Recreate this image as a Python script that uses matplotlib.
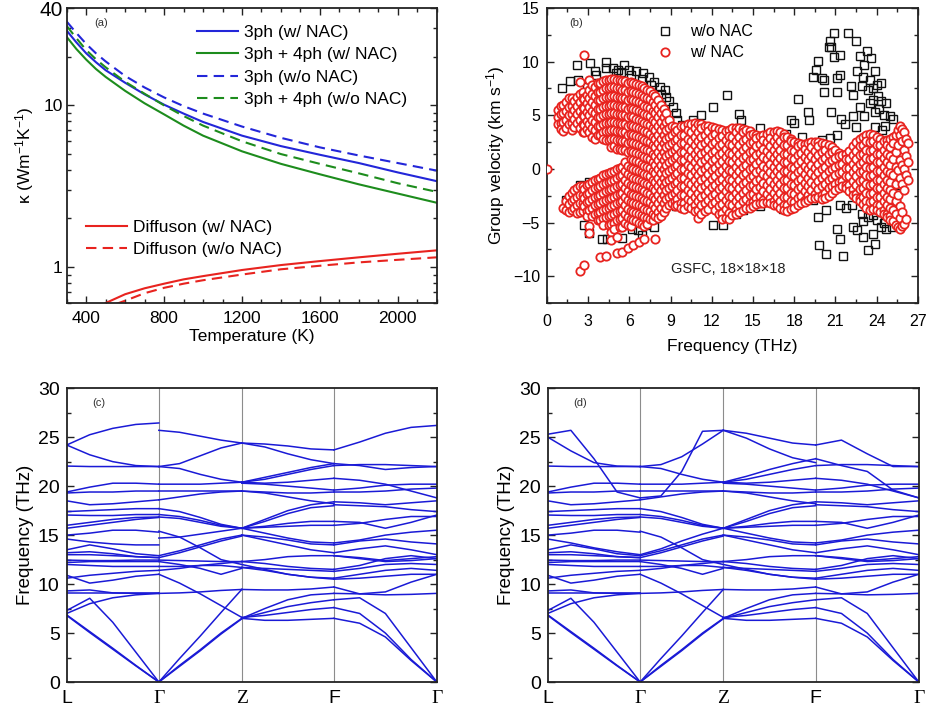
import numpy as np
import matplotlib
matplotlib.use('Agg')
import matplotlib.pyplot as plt
from matplotlib.ticker import MultipleLocator, FixedLocator, NullFormatter
from matplotlib.lines import Line2D

plt.rcParams['font.family'] = ['Liberation Sans', 'DejaVu Sans']
plt.rcParams['mathtext.fontset'] = 'custom'
plt.rcParams['mathtext.rm'] = 'Liberation Sans'
plt.rcParams['mathtext.it'] = 'Liberation Sans:italic'
plt.rcParams['axes.unicode_minus'] = True

# ---------------- (a) thermal conductivity ----------------
temps = [300, 350, 400, 450, 500, 600, 700, 800, 900, 1000, 1200, 1400, 1600, 1800, 2000, 2200]
k3_nac = [29, 24.5, 21, 18.5, 16.5, 13.8, 11.7, 10.1, 8.9, 7.9, 6.5, 5.6, 4.95, 4.4, 3.85, 3.4]
k34_nac = [26.5, 22.3, 19.2, 16.8, 15.0, 12.3, 10.3, 8.8, 7.5, 6.5, 5.2, 4.35, 3.75, 3.25, 2.85, 2.5]
k3_nonac = [33, 28, 24, 21, 18.7, 15.2, 12.9, 11.2, 9.9, 8.9, 7.4, 6.3, 5.5, 4.9, 4.4, 3.95]
k34_nonac = [31, 26, 22, 19.3, 17.2, 14.0, 11.8, 10.0, 8.6, 7.5, 6.0, 5.0, 4.35, 3.8, 3.3, 2.92]

t_dif_nac = [500, 600, 700, 800, 900, 1000, 1200, 1400, 1600, 1800, 2000, 2200]
kd_nac = [0.6, 0.68, 0.74, 0.79, 0.84, 0.88, 0.96, 1.03, 1.09, 1.15, 1.21, 1.27]
t_dif_nonac = [550, 600, 700, 800, 900, 1000, 1200, 1400, 1600, 1800, 2000, 2200]
kd_nonac = [0.59, 0.62, 0.69, 0.745, 0.79, 0.83, 0.9, 0.97, 1.02, 1.07, 1.11, 1.15]

# ---------------- (b) group velocities ----------------
black_f_low = [1.1, 1.65, 2.2, 2.3, 2.9, 3.15, 3.5, 3.6, 4.3, 4.3, 4.8, 5.0, 5.2, 5.4, 5.6, 6.0, 6.1,
               6.5, 6.9, 7.0, 7.4, 7.6, 7.8, 8.2, 8.3, 8.6, 8.7, 8.9, 9.2, 9.4, 9.5, 9.8, 10.6, 11.2,
               12.1, 13.1, 14.0, 14.1,
               1.4, 2.0, 2.4, 2.7, 3.05, 3.05, 3.8, 4.0, 4.4, 5.1, 5.5, 6.2, 6.6, 6.9, 7.2, 7.8,
               9.4, 10.6, 12.1, 12.8, 13.8, 14.3]
black_v_low = [7.5, 8.2, 9.7, 8.3, 7.6, 9.9, 9.1, 8.8, 10.0, 9.4, 9.4, 8.9, 9.2, 9.0, 9.7, 9.2, 8.8,
               9.1, 8.4, 8.9, 8.6, 7.8, 8.1, 7.6, 7.0, 7.4, 6.7, 6.3, 5.8, 5.2, 4.6, 4.1, 4.6, 5.0,
               5.75, 6.85, 5.1, 4.6,
               -2.9, -2.3, -1.5, -5.2, -6.0, -1.2, -4.6, -6.5, -6.5, -4.6, -6.4, -5.6, -5.7, -6.2, -5.2, -5.4,
               -3.5, -3.5, -5.2, -5.2, -4.2, -3.8]
black_f_high = [15.5, 17.4, 17.8, 18.0, 18.3, 19.0, 19.1, 18.6, 20.0, 20.6, 15.5, 17.2, 19.4,
                19.4, 19.7, 19.6, 20.0, 20.2, 20.2, 20.5, 20.6, 20.7, 20.9, 20.9, 21.1, 21.1, 21.3,
                21.3, 20.7, 21.1, 21.4, 21.7, 21.9, 22.1, 22.3, 22.5, 22.6, 22.8, 22.9, 23.0, 23.1,
                23.3, 23.4, 23.5, 23.6, 23.7, 23.9, 24.0, 24.1, 24.2, 24.3, 24.5, 24.7, 24.95, 25.2,
                23.5, 23.1, 22.5, 22.3, 23.85, 24.4, 23.9, 24.6, 22.8, 24.3, 23.7,
                19.7, 19.8, 20.3, 20.3, 21.1, 21.3, 21.3, 21.55, 21.8, 22.2, 22.3, 22.6, 23.0, 23.4,
                23.7, 23.85, 22.9, 23.4, 24.0, 24.3, 24.7, 25.1, 25.4, 25.7, 25.55, 23.0, 24.5, 23.7,
                25.5, 25.3]
black_v_high = [3.8, 3.3, 4.6, 4.3, 6.5, 5.3, 4.6, 3.0, 2.7, 2.9, -3.5, -3.7, -2.9,
                8.55, 10.1, 9.2, 8.5, 8.3, 7.2, 11.4, 11.9, 11.4, 12.7, 10.4, 8.5, 7.2, 10.6,
                8.8, 5.3, 3.2, 4.7, 4.2, 12.7, 7.7, 6.9, 11.9, 9.1, 10.5, 7.7, 8.6, 9.7,
                10.95, 7.4, 8.3, 10.3, 6.4, 9.1, 7.8, 6.8, 5.6, 6.3, 5.0, 6.1, 4.9, 4.7,
                6.1, 4.9, 3.9, 4.9, 3.95, 3.6, 5.3, 4.0, 5.8, 8.0, 7.5,
                -4.5, -7.1, -3.8, -7.9, -5.6, -3.4, -6.5, -8.1, -3.6, -3.4, -5.4, -5.7, -6.3, -7.6,
                -6.1, -7.0, -4.2, -4.5, -4.8, -5.4, -5.6, -5.4, -2.9, -1.7, -0.4, -4.9, -5.0, -4.3,
                -2.2, -1.0]

# red circles, column by column: (frequency, [velocities])
red_cols_low = [
    (0.0, [0.0]),
    (0.8, [5.5, 4.8, 4.2]),
    (1.0, [5.9, 5.1, 4.3, 3.7]),
    (1.2, [6.0, 5.2, 4.4, 3.5, -3.6]),
    (1.4, [6.2, 5.4, 4.6, 3.8, -3.0, -3.8]),
    (1.6, [6.6, 5.8, 5.0, 4.2, -2.5, -3.3, -4.0]),
    (1.8, [6.6, 5.9, 5.1, 4.3, 3.6, -2.2, -3.0, -3.8]),
    (2.0, [6.3, 5.5, 4.7, 3.9, -2.0, -2.8, -3.6]),
    (2.2, [6.7, 5.9, 5.1, 4.3, -1.8, -2.6, -3.4, -4.1]),
    (2.4, [8.1, 7.0, 6.2, 5.4, 4.6, 3.8, -1.6, -2.4, -3.2, -4.0, -9.5]),
    (2.6, [7.2, 6.6, 5.8, 5.0, 4.2, 3.4, -1.6, -2.4, -3.2, -3.9]),
    (2.7, [10.6, 6.5, 5.7, 4.9, 4.1, 3.4, -1.9, -2.7, -3.5, -9.0]),
    (2.9, [6.9, 6.1, 5.3, 4.5, 3.7, -1.5, -2.3, -3.1, -3.9, -4.4]),
    (3.1, [8.3, 7.4, 6.6, 5.8, 5.0, 4.2, 3.4, -1.4, -2.2, -3.0, -3.8, -5.3, -6.0]),
    (3.3, [7.8, 7.0, 6.2, 5.4, 4.6, 3.8, 3.0, -1.2, -2.0, -2.8, -3.6, -4.4]),
    (3.5, [7.6, 6.8, 6.0, 5.2, 4.4, 3.6, 2.8, -1.0, -1.8, -2.6, -3.4, -4.2]),
    (3.7, [8.0, 7.2, 6.4, 5.6, 4.8, 4.0, 3.2, -0.9, -1.7, -2.5, -3.3, -4.1, -4.8]),
    (3.9, [8.0, 7.2, 6.4, 5.6, 4.8, 4.0, 3.2, -0.8, -1.6, -2.4, -3.2, -4.0, -4.8, -8.2]),
    (4.1, [8.2, 7.4, 6.6, 5.8, 5.0, 4.2, 3.4, 2.8, -0.6, -1.4, -2.2, -3.0, -3.8, -4.6, -5.2]),
    (4.3, [8.3, 7.5, 6.7, 5.9, 5.1, 4.3, 3.5, 2.7, -0.5, -1.3, -2.1, -2.9, -3.7, -4.5, -8.1]),
    (4.5, [8.3, 7.5, 6.7, 5.9, 5.1, 4.3, 3.5, 2.7, -0.4, -1.2, -2.0, -2.8, -3.6, -4.4, -5.2]),
    (4.7, [8.4, 7.6, 6.8, 6.0, 5.2, 4.4, 3.6, 2.8, 2.0, -0.3, -1.1, -1.9, -2.7, -3.5, -4.3, -5.1, -5.9, -6.6]),
    (4.9, [8.4, 7.6, 6.8, 6.0, 5.2, 4.4, 3.6, 2.8, 2.1, -0.2, -1.0, -1.8, -2.6, -3.4, -4.2, -5.0, -5.6]),
    (5.1, [8.3, 7.5, 6.7, 5.9, 5.1, 4.3, 3.5, 2.7, 1.9, 0.0, -0.8, -1.6, -2.4, -3.2, -4.0, -4.8, -6.3, -7.8]),
    (5.3, [8.3, 7.5, 6.7, 5.9, 5.1, 4.3, 3.5, 2.7, 1.9, 0.1, -0.7, -1.5, -2.3, -3.1, -3.9, -4.7, -5.4]),
    (5.5, [8.2, 7.4, 6.6, 5.8, 5.0, 4.2, 3.4, 2.6, 1.8, 0.2, -0.6, -1.4, -2.2, -3.0, -3.8, -4.6, -5.4, -7.7]),
    (5.7, [8.2, 7.4, 6.6, 5.8, 5.0, 4.2, 3.4, 2.6, 1.8, 0.6, -0.2, -1.0, -1.8, -2.6, -3.4, -4.2, -5.0]),
    (5.9, [8.0, 7.2, 6.4, 5.6, 4.8, 4.0, 3.2, 2.4, 1.6, 0.3, -0.5, -1.3, -2.1, -2.9, -3.7, -4.5, -5.2, -7.4]),
    (6.1, [8.1, 7.3, 6.5, 5.7, 4.9, 4.1, 3.3, 2.5, 1.7, 0.9, 0.1, -0.7, -1.5, -2.3, -3.1, -3.9, -4.7, -5.3]),
    (6.3, [8.0, 7.2, 6.4, 5.6, 4.8, 4.0, 3.2, 2.4, 1.6, 0.8, 0.0, -0.8, -1.6, -2.4, -3.2, -4.0, -4.8, -7.1]),
    (6.5, [7.9, 7.1, 6.3, 5.5, 4.7, 3.9, 3.1, 2.3, 1.5, 0.7, -0.1, -0.9, -1.7, -2.5, -3.3, -4.1, -4.9]),
    (6.7, [7.8, 7.0, 6.2, 5.4, 4.6, 3.8, 3.0, 2.2, 1.4, 0.6, -0.2, -1.0, -1.8, -2.6, -3.4, -4.2, -5.0, -6.8]),
    (6.9, [7.7, 6.9, 6.1, 5.3, 4.5, 3.7, 2.9, 2.1, 1.3, 0.5, -0.3, -1.1, -1.9, -2.7, -3.5, -4.3, -5.1]),
    (7.1, [7.5, 6.7, 5.9, 5.1, 4.3, 3.5, 2.7, 1.9, 1.1, 0.3, -0.5, -1.3, -2.1, -2.9, -3.7, -4.5, -5.3, -6.5]),
    (7.3, [7.4, 6.6, 5.8, 5.0, 4.2, 3.4, 2.6, 1.8, 1.0, 0.2, -0.6, -1.4, -2.2, -3.0, -3.8, -4.6, -5.1]),
    (7.5, [7.3, 6.5, 5.7, 4.9, 4.1, 3.3, 2.5, 1.7, 0.9, 0.1, -0.7, -1.5, -2.3, -3.1, -3.9, -4.7]),
    (7.7, [7.0, 6.2, 5.4, 4.6, 3.8, 3.0, 2.2, 1.4, 0.6, -0.2, -1.0, -1.8, -2.6, -3.4, -4.2, -4.8]),
    (7.9, [6.8, 6.0, 5.2, 4.4, 3.6, 2.8, 2.0, 1.2, 0.4, -0.4, -1.2, -2.0, -2.8, -3.6, -4.4, -6.5]),
    (8.1, [6.4, 5.6, 4.8, 4.0, 3.2, 2.4, 1.6, 0.8, 0.0, -0.8, -1.6, -2.4, -3.2, -4.0, -4.6]),
    (8.3, [6.0, 5.2, 4.4, 3.6, 2.8, 2.0, 1.2, 0.4, -0.4, -1.2, -2.0, -2.8, -3.6, -4.4]),
    (8.5, [5.6, 4.8, 4.0, 3.2, 2.4, 1.6, 0.8, 0.0, -0.8, -1.6, -2.4, -3.2, -4.0]),
    (8.7, [5.2, 4.4, 3.6, 2.8, 2.0, 1.2, 0.4, -0.4, -1.2, -2.0, -2.8, -3.6]),
    (8.9, [4.6, 3.8, 3.0, 2.2, 1.4, 0.6, -0.2, -1.0, -1.8, -2.6, -3.4]),
    (9.1, [4.0, 3.2, 2.4, 1.6, 0.8, 0.0, -0.8, -1.6, -2.4, -3.2]),
    (9.3, [3.9, 3.4, 2.6, 1.8, 1.0, 0.2, -0.6, -1.4, -2.2, -3.0, -3.5]),
]
red_cols_mid = [
    (9.5, [3.6, 2.8, 2.0, 1.2, 0.4, -0.4, -1.2, -2.0, -2.8, -3.4]),
    (9.75, [4.0, 3.2, 2.4, 1.6, 0.8, 0.0, -0.8, -1.6, -2.4, -3.2, -3.6]),
    (10.0, [4.0, 3.2, 2.4, 1.6, 0.8, 0.0, -0.8, -1.6, -2.4, -3.2, -3.7]),
    (10.25, [4.2, 3.6, 2.8, 2.0, 1.2, 0.4, -0.4, -1.2, -2.0, -2.8, -3.5]),
    (10.5, [4.2, 3.4, 2.6, 1.8, 1.0, 0.2, -0.6, -1.4, -2.2, -3.0, -3.6]),
    (10.75, [4.3, 3.8, 3.0, 2.2, 1.4, 0.6, -0.2, -1.0, -1.8, -2.6, -3.4, -3.9]),
    (11.0, [4.2, 3.4, 2.6, 1.8, 1.0, 0.2, -0.6, -1.4, -2.2, -3.0, -3.8, -4.6]),
    (11.25, [4.2, 3.8, 3.0, 2.2, 1.4, 0.6, -0.2, -1.0, -1.8, -2.6, -3.4, -4.2]),
    (11.5, [4.0, 3.2, 2.4, 1.6, 0.8, 0.0, -0.8, -1.6, -2.4, -3.2, -3.9]),
    (11.75, [4.0, 3.5, 2.7, 1.9, 1.1, 0.3, -0.5, -1.3, -2.1, -2.9, -3.7]),
    (12.0, [3.9, 3.1, 2.3, 1.5, 0.7, -0.1, -0.9, -1.7, -2.5, -3.3]),
    (12.25, [3.8, 3.3, 2.5, 1.7, 0.9, 0.1, -0.7, -1.5, -2.3, -3.1, -3.8]),
    (12.5, [3.7, 2.9, 2.1, 1.3, 0.5, -0.3, -1.1, -1.9, -2.7, -3.5, -4.2]),
    (12.75, [3.6, 3.1, 2.3, 1.5, 0.7, -0.1, -0.9, -1.7, -2.5, -3.3, -4.1, -4.7]),
    (13.0, [3.5, 2.7, 1.9, 1.1, 0.3, -0.5, -1.3, -2.1, -2.9, -3.7, -4.6]),
    (13.25, [3.6, 3.1, 2.3, 1.5, 0.7, -0.1, -0.9, -1.7, -2.5, -3.3, -4.1, -4.7]),
    (13.5, [3.8, 3.0, 2.2, 1.4, 0.6, -0.2, -1.0, -1.8, -2.6, -3.4, -4.3]),
    (13.75, [3.8, 3.4, 2.6, 1.8, 1.0, 0.2, -0.6, -1.4, -2.2, -3.0, -3.8, -4.2]),
    (14.0, [3.8, 3.0, 2.2, 1.4, 0.6, -0.2, -1.0, -1.8, -2.6, -3.4, -4.0]),
    (14.25, [3.7, 3.4, 2.6, 1.8, 1.0, 0.2, -0.6, -1.4, -2.2, -3.0, -3.8]),
    (14.5, [3.6, 2.8, 2.0, 1.2, 0.4, -0.4, -1.2, -2.0, -2.8, -3.6]),
    (14.75, [3.5, 3.2, 2.4, 1.6, 0.8, 0.0, -0.8, -1.6, -2.4, -3.2, -3.6]),
    (15.0, [3.3, 2.5, 1.7, 0.9, 0.1, -0.7, -1.5, -2.3, -3.1, -3.5]),
    (15.25, [3.2, 2.9, 2.1, 1.3, 0.5, -0.3, -1.1, -1.9, -2.7, -3.3]),
    (15.5, [3.1, 2.3, 1.5, 0.7, -0.1, -0.9, -1.7, -2.5, -3.2]),
    (15.75, [3.2, 2.7, 1.9, 1.1, 0.3, -0.5, -1.3, -2.1, -2.9, -3.2]),
    (16.0, [3.3, 2.5, 1.7, 0.9, 0.1, -0.7, -1.5, -2.3, -3.1]),
    (16.25, [3.4, 2.9, 2.1, 1.3, 0.5, -0.3, -1.1, -1.9, -2.7, -3.2]),
    (16.5, [3.4, 2.6, 1.8, 1.0, 0.2, -0.6, -1.4, -2.2, -3.0, -3.4]),
    (16.75, [3.5, 3.0, 2.2, 1.4, 0.6, -0.2, -1.0, -1.8, -2.6, -3.4]),
    (17.0, [3.4, 2.6, 1.8, 1.0, 0.2, -0.6, -1.4, -2.2, -3.0, -3.6]),
    (17.25, [3.3, 3.0, 2.2, 1.4, 0.6, -0.2, -1.0, -1.8, -2.6, -3.4, -3.8]),
    (17.5, [3.0, 2.2, 1.4, 0.6, -0.2, -1.0, -1.8, -2.6, -3.4, -3.9]),
    (17.75, [2.8, 2.6, 1.8, 1.0, 0.2, -0.6, -1.4, -2.2, -3.0, -3.7]),
]
red_cols_high = [
    (18.0, [2.5, 1.7, 0.9, 0.1, -0.7, -1.5, -2.3, -3.1, -3.6]),
    (18.25, [2.4, 2.1, 1.3, 0.5, -0.3, -1.1, -1.9, -2.7, -3.4]),
    (18.5, [2.3, 1.5, 0.7, -0.1, -0.9, -1.7, -2.5, -3.2]),
    (18.75, [2.3, 1.9, 1.1, 0.3, -0.5, -1.3, -2.1, -2.9, -3.1]),
    (19.0, [2.4, 1.6, 0.8, 0.0, -0.8, -1.6, -2.4, -2.9]),
    (19.25, [2.5, 2.0, 1.2, 0.4, -0.4, -1.2, -2.0, -2.7]),
    (19.5, [2.5, 1.7, 0.9, 0.1, -0.7, -1.5, -2.3, -2.7]),
    (19.75, [2.5, 2.1, 1.3, 0.5, -0.3, -1.1, -1.9, -2.6]),
    (20.0, [2.4, 1.6, 0.8, 0.0, -0.8, -1.6, -2.4, -2.8]),
    (20.25, [2.3, 1.8, 1.0, 0.2, -0.6, -1.4, -2.2, -2.7]),
    (20.5, [2.2, 1.4, 0.6, -0.2, -1.0, -1.8, -2.5]),
    (20.75, [2.0, 1.6, 0.8, 0.0, -0.8, -1.6, -2.2]),
    (21.0, [1.8, 1.0, 0.2, -0.6, -1.4, -2.0]),
    (21.25, [1.5, 1.2, 0.4, -0.4, -1.2, -1.8]),
    (21.5, [1.3, 0.5, -0.3, -1.1, -1.6]),
    (21.75, [1.4, 0.9, 0.1, -0.7, -1.5, -1.8]),
    (22.0, [1.7, 0.9, 0.1, -0.7, -1.5, -2.1]),
    (22.25, [2.1, 1.3, 0.5, -0.3, -1.1, -1.9, -2.4]),
    (22.5, [2.5, 1.7, 0.9, 0.1, -0.7, -1.5, -2.3, -2.7]),
    (22.75, [2.8, 2.1, 1.3, 0.5, -0.3, -1.1, -1.9, -2.7, -3.0]),
    (23.0, [3.0, 2.2, 1.4, 0.6, -0.2, -1.0, -1.8, -2.6, -3.3]),
    (23.25, [3.2, 2.6, 1.8, 1.0, 0.2, -0.6, -1.4, -2.2, -3.0, -3.6]),
    (23.5, [3.3, 2.5, 1.7, 0.9, 0.1, -0.7, -1.5, -2.3, -3.1, -3.8]),
    (23.75, [3.2, 2.6, 1.8, 1.0, 0.2, -0.6, -1.4, -2.2, -3.0, -3.7]),
    (24.0, [3.0, 2.2, 1.4, 0.6, -0.2, -1.0, -1.8, -2.6, -3.4, -3.8]),
    (24.25, [2.8, 2.2, 1.4, 0.6, -0.2, -1.0, -1.8, -2.6, -3.4, -4.0]),
    (24.5, [2.6, 1.8, 1.0, 0.2, -0.6, -1.4, -2.2, -3.0, -3.8, -4.2]),
    (24.75, [2.7, 2.2, 1.4, 0.6, -0.2, -1.0, -1.8, -2.6, -3.4, -4.2, -4.5]),
    (25.0, [2.8, 2.0, 1.2, 0.4, -0.4, -1.2, -2.0, -2.8, -3.6, -4.4, -4.8]),
    (25.2, [3.0, 2.4, 0.9, -0.6, -2.2, -3.8, -4.9]),
    (25.4, [3.2, 1.6, 0.2, -1.4, -3.0, -4.2, -5.2]),
    (25.55, [3.6, 2.2, -0.1, -2.4, -5.4]),
    (25.7, [4.0, 3.2, 0.8, -0.8, -3.5, -4.6, -5.6]),
    (25.85, [3.7, 2.6, 0.4, -1.4, -4.0, -5.3]),
    (26.0, [3.4, 1.8, 0.0, -2.0, -5.1]),
    (26.15, [2.8, 1.2, -0.6, -4.7]),
    (26.3, [2.4, 0.6, -1.0]),
]

# ---------------- (c), (d) phonon dispersions ----------------
# path L - Gamma - Z - F - Gamma, five samples per segment
q_nodes = [0.0, 0.249, 0.473, 0.722, 1.0]
q_labels = ['L', 'Γ', 'Z', 'F', 'Γ']

lg_common = [
    [22.05, 22.0, 22.0, 22.0, 22.0],
    [19.4, 19.9, 20.3, 20.3, 20.2],
    [19.3, 19.4, 19.4, 19.5, 19.5],
    [18.5, 18.1, 18.2, 18.4, 18.6],
    [17.4, 17.5, 17.6, 17.7, 17.7],
    [17.05, 17.0, 17.0, 17.1, 17.1],
    [16.0, 16.3, 16.6, 16.8, 16.85],
    [15.7, 16.0, 16.3, 16.6, 16.8],
    [15.0, 15.2, 15.5, 15.5, 15.3],
    [13.5, 14.0, 13.6, 13.1, 12.9],
    [13.2, 13.3, 13.1, 12.8, 12.7],
    [13.0, 13.0, 12.9, 12.8, 12.7],
    [12.45, 12.4, 12.4, 12.45, 12.45],
    [12.2, 12.3, 12.3, 12.3, 12.3],
    [12.0, 11.9, 11.8, 11.8, 11.8],
    [10.9, 10.1, 10.4, 10.8, 11.0],
    [10.6, 10.9, 11.1, 11.3, 11.4],
    [9.3, 9.4, 9.1, 9.05, 9.05],
    [9.05, 9.05, 9.05, 9.05, 9.05],
    [7.3, 8.55, 6.1, 3.05, 0.0],
    [7.0, 8.0, 8.6, 8.9, 9.05],
    [6.85, 5.15, 3.45, 1.7, 0.0],
    [6.8, 5.05, 3.35, 1.65, 0.0],
]
lg_nac = [
    [24.2, 25.25, 25.9, 26.3, 26.45],
    [24.2, 23.2, 22.5, 22.1, 22.0],
    [14.6, 14.3, 14.1, 14.0, 14.0],
]
lg_nonac = [
    [25.3, 25.7, 22.8, 19.4, 18.8],
    [25.0, 23.6, 22.4, 22.05, 22.0],
    [14.6, 14.2, 13.7, 13.3, 13.0],
]

gz_common = [
    [22.0, 21.8, 21.2, 20.7, 20.4],
    [20.2, 20.2, 20.2, 20.3, 20.4],
    [19.5, 19.5, 19.5, 19.5, 19.5],
    [18.6, 18.9, 19.2, 19.4, 19.5],
    [17.7, 17.4, 16.8, 16.1, 15.7],
    [17.1, 16.9, 16.5, 16.0, 15.7],
    [16.85, 16.7, 16.3, 15.9, 15.7],
    [15.4, 14.8, 13.7, 12.5, 12.0],
    [12.9, 13.4, 14.0, 14.6, 15.0],
    [12.7, 13.2, 13.8, 14.4, 14.9],
    [12.45, 12.4, 12.35, 12.3, 12.3],
    [12.3, 12.0, 11.6, 11.0, 11.6],
    [11.8, 11.8, 11.9, 11.9, 11.7],
    [11.4, 11.6, 11.9, 12.1, 12.3],
    [11.0, 10.1, 9.0, 7.8, 6.6],
    [9.05, 9.1, 9.2, 9.35, 9.45],
    [0.0, 2.4, 4.7, 7.1, 9.45],
    [0.0, 1.7, 3.3, 5.0, 6.5],
    [0.0, 1.6, 3.2, 4.9, 6.45],
]
gz_nac = [
    [25.7, 25.5, 25.1, 24.7, 24.4],
    [22.0, 22.3, 23.1, 23.9, 24.4],
    [14.7, 14.8, 15.1, 15.4, 15.7],
]
gz_nonac = [
    [18.8, 19.0, 21.5, 25.6, 25.7],
    [22.0, 22.2, 23.0, 24.3, 25.7],
    [13.0, 13.6, 14.4, 15.1, 15.7],
]

zf_common = [
    [20.4, 20.7, 21.2, 21.7, 22.1],
    [20.4, 20.3, 20.4, 20.6, 20.8],
    [20.3, 20.2, 20.0, 19.8, 19.6],
    [19.5, 19.3, 18.9, 18.5, 18.2],
    [19.5, 19.4, 19.3, 19.3, 19.4],
    [15.7, 16.6, 17.5, 18.1, 18.4],
    [15.7, 16.4, 17.2, 17.8, 18.0],
    [15.7, 15.9, 16.2, 16.4, 16.4],
    [15.7, 15.8, 15.9, 16.0, 16.0],
    [15.7, 15.2, 14.7, 14.3, 14.2],
    [15.0, 14.8, 14.5, 14.1, 14.0],
    [15.0, 14.5, 14.0, 13.5, 13.2],
    [12.3, 12.5, 12.8, 12.9, 12.9],
    [12.3, 12.1, 11.8, 11.6, 11.5],
    [11.7, 11.6, 11.5, 11.4, 11.3],
    [11.7, 11.4, 11.0, 10.7, 10.6],
    [12.0, 11.5, 11.0, 10.7, 10.5],
    [9.45, 9.4, 9.4, 9.5, 9.7],
    [6.5, 7.5, 8.4, 8.9, 9.05],
    [6.5, 7.1, 7.7, 8.1, 8.4],
    [6.6, 6.8, 7.1, 7.4, 7.6],
    [6.5, 6.3, 6.3, 6.4, 6.5],
]
zf_nac = [
    [24.4, 24.3, 24.1, 23.8, 23.7],
    [24.4, 24.0, 23.3, 22.7, 22.3],
    [20.4, 20.9, 21.4, 21.9, 22.3],
]
zf_nonac = [
    [25.7, 25.4, 24.9, 24.4, 24.2],
    [25.7, 24.9, 23.8, 22.9, 22.4],
    [20.4, 21.0, 21.7, 22.3, 22.8],
]

fg_common = [
    [22.1, 22.2, 22.2, 22.1, 22.0],
    [20.8, 20.6, 20.2, 19.5, 18.8],
    [19.6, 19.8, 20.1, 20.2, 20.2],
    [19.4, 19.4, 19.5, 19.7, 19.8],
    [18.4, 18.3, 18.1, 18.3, 18.5],
    [18.1, 18.0, 17.9, 17.6, 17.4],
    [16.4, 16.3, 15.7, 16.3, 17.05],
    [16.0, 16.2, 16.6, 16.9, 16.9],
    [14.2, 14.5, 15.0, 15.3, 15.5],
    [14.0, 14.4, 14.6, 14.3, 14.1],
    [13.2, 13.6, 13.9, 13.5, 13.0],
    [12.9, 12.7, 12.4, 12.6, 12.8],
    [12.9, 12.6, 12.3, 12.4, 12.6],
    [11.5, 11.9, 12.6, 12.9, 12.6],
    [11.3, 11.6, 12.0, 12.1, 12.0],
    [10.6, 11.0, 11.4, 11.6, 11.4],
    [10.5, 10.6, 10.8, 11.0, 11.0],
    [9.7, 9.0, 9.2, 10.2, 11.0],
    [9.05, 9.0, 8.9, 8.95, 9.05],
    [8.4, 8.6, 7.0, 3.5, 0.0],
    [7.6, 7.0, 5.0, 2.3, 0.0],
    [6.5, 6.0, 4.6, 2.2, 0.0],
]
fg_nac = [
    [23.7, 24.5, 25.4, 26.0, 26.2],
    [22.3, 22.1, 21.7, 21.9, 22.0],
]
fg_nonac = [
    [24.2, 24.7, 23.3, 22.0, 22.0],
    [22.8, 22.1, 21.5, 19.6, 18.8],
]

blue = '#2326d9'
green = '#1d8c1d'
red = '#e8231f'
band_blue = '#1a1ad6'
spine_col = '#222222'

fig = plt.figure(figsize=(9.3, 7.08), dpi=100)
ax_a = fig.add_axes([0.0717, 0.572, 0.398, 0.4167])
ax_b = fig.add_axes([0.588, 0.572, 0.399, 0.4167])
ax_c = fig.add_axes([0.0717, 0.0367, 0.398, 0.415])
ax_d = fig.add_axes([0.589, 0.0367, 0.399, 0.415])

for ax in (ax_a, ax_b, ax_c, ax_d):
    for s in ax.spines.values():
        s.set_linewidth(1.3)
        s.set_color(spine_col)
    ax.tick_params(which='both', direction='in', color=spine_col, width=1.0)
    ax.tick_params(which='major', length=5)
    ax.tick_params(which='minor', length=2.8)

# ---- (a)
dash = (5, 3)
ax_a.plot(temps, k3_nac, color=blue, lw=1.5, label='3ph (w/ NAC)')
ax_a.plot(temps, k34_nac, color=green, lw=1.5, label='3ph + 4ph (w/ NAC)')
ax_a.plot(temps, k3_nonac, color=blue, lw=1.5, dashes=dash, label='3ph (w/o NAC)')
ax_a.plot(temps, k34_nonac, color=green, lw=1.5, dashes=dash, label='3ph + 4ph (w/o NAC)')
d1, = ax_a.plot(t_dif_nac, kd_nac, color=red, lw=1.5, label='Diffuson (w/ NAC)')
d2, = ax_a.plot(t_dif_nonac, kd_nonac, color=red, lw=1.5, dashes=dash, label='Diffuson (w/o NAC)')
ax_a.set_yscale('log')
ax_a.set_xlim(300, 2200)
ax_a.set_ylim(0.6, 40)
ax_a.xaxis.set_major_locator(FixedLocator([400, 800, 1200, 1600, 2000]))
ax_a.xaxis.set_minor_locator(MultipleLocator(100))
ax_a.yaxis.set_major_locator(FixedLocator([1, 10, 40]))
ax_a.set_yticklabels(['1', '10', '40'])
ax_a.yaxis.set_minor_locator(FixedLocator([0.6, 0.7, 0.8, 0.9, 2, 3, 4, 5, 6, 7, 8, 9, 20, 30]))
ax_a.yaxis.set_minor_formatter(NullFormatter())
ax_a.tick_params(which='both', top=True, right=True)
ax_a.tick_params(axis='x', labelsize=12.5, pad=6)
ax_a.tick_params(axis='y', labelsize=12.5, pad=3)
ax_a.get_yticklabels()[2].set_fontsize(15)
ax_a.set_xlabel('Temperature (K)', fontsize=12.5, labelpad=2)
ax_a.set_ylabel('κ (Wm$^{-1}$K$^{-1}$)', fontsize=12.5, labelpad=2)
h, l = ax_a.get_legend_handles_labels()
leg1 = ax_a.legend(h[:4], l[:4], loc='upper left', bbox_to_anchor=(0.353, 0.943), frameon=False,
                   fontsize=12.5, handlelength=2.35, handletextpad=0.35, labelspacing=0.42,
                   borderpad=0, borderaxespad=0)
ax_a.add_artist(leg1)
ax_a.legend([d1, d2], [l[4], l[5]], loc='upper left', bbox_to_anchor=(0.053, 0.282), frameon=False,
            fontsize=12.5, handlelength=2.35, handletextpad=0.35, labelspacing=0.42,
            borderpad=0, borderaxespad=0)
ax_a.text(0.075, 0.965, '(a)', transform=ax_a.transAxes, fontsize=8, color='#333333', va='top')

# ---- (b)
ax_b.plot(black_f_low, black_v_low, 's', ms=5.5, mfc='none', mec='#111111', mew=1.0, zorder=2)
ax_b.plot(black_f_high, black_v_high, 's', ms=5.5, mfc='none', mec='#111111', mew=1.0, zorder=2)
for cols in (red_cols_low, red_cols_mid, red_cols_high):
    for f, vs in cols:
        ax_b.plot([f] * len(vs), vs, 'o', ms=6.0, mfc='white', mec=red, mew=1.3, zorder=3)
ax_b.set_xlim(0, 27)
ax_b.set_ylim(-12.5, 15)
ax_b.xaxis.set_major_locator(MultipleLocator(3))
ax_b.xaxis.set_minor_locator(MultipleLocator(1.5))
ax_b.yaxis.set_major_locator(MultipleLocator(5))
ax_b.yaxis.set_minor_locator(MultipleLocator(2.5))
ax_b.tick_params(which='both', top=True, right=True)
ax_b.tick_params(axis='both', labelsize=11.5)
ax_b.tick_params(axis='x', pad=8)
ax_b.tick_params(axis='y', pad=5)
ax_b.set_xlabel('Frequency (THz)', fontsize=12.5, labelpad=7)
ax_b.set_ylabel('Group velocity (km s$^{-1}$)', fontsize=12.5, labelpad=4)
hb = [Line2D([], [], ls='none', marker='s', ms=5.5, mfc='none', mec='#111111', mew=1.0),
      Line2D([], [], ls='none', marker='o', ms=6.0, mfc='white', mec=red, mew=1.3)]
ax_b.legend(hb, ['w/o NAC', 'w/ NAC'], loc='upper left', bbox_to_anchor=(0.296, 0.945), frameon=False,
            fontsize=11.5, handlelength=1.0, handletextpad=1.1, labelspacing=0.39,
            borderpad=0, borderaxespad=0)
ax_b.text(0.06, 0.965, '(b)', transform=ax_b.transAxes, fontsize=8, color='#333333', va='top')
ax_b.text(13.2, -9.3, 'GSFC, 18×18×18', fontsize=10.5, color='#222222', ha='center', va='center')


# ---- (c), (d)
def draw_bands(ax, segments, tag):
    for i, bands in enumerate(segments):
        qx = np.linspace(q_nodes[i], q_nodes[i + 1], 5)
        for b in bands:
            ax.plot(qx, b, color=band_blue, lw=1.1)
    for q in q_nodes[1:-1]:
        ax.axvline(q, color='#8c8c8c', lw=0.8, zorder=0)
    ax.set_xlim(0, 1)
    ax.set_ylim(0, 30)
    ax.set_xticks(q_nodes)
    ax.set_xticklabels(q_labels)
    for lab in ax.get_xticklabels():
        if lab.get_text() in ('Γ', 'Z'):
            lab.set_fontfamily('Liberation Serif')
    ax.yaxis.set_major_locator(MultipleLocator(5))
    ax.yaxis.set_minor_locator(MultipleLocator(2.5))
    ax.tick_params(axis='x', which='both', length=0, labelsize=14, pad=6)
    ax.tick_params(axis='y', which='both', right=True, labelsize=14, pad=5)
    ax.set_ylabel('Frequency (THz)', fontsize=13.5, labelpad=3)
    ax.text(0.07, 0.965, tag, transform=ax.transAxes, fontsize=8, color='#333333', va='top')


draw_bands(ax_c, [lg_common + lg_nac, gz_common + gz_nac, zf_common + zf_nac, fg_common + fg_nac], '(c)')
draw_bands(ax_d, [lg_common + lg_nonac, gz_common + gz_nonac, zf_common + zf_nonac, fg_common + fg_nonac], '(d)')

fig.savefig('out.png', dpi=100)
